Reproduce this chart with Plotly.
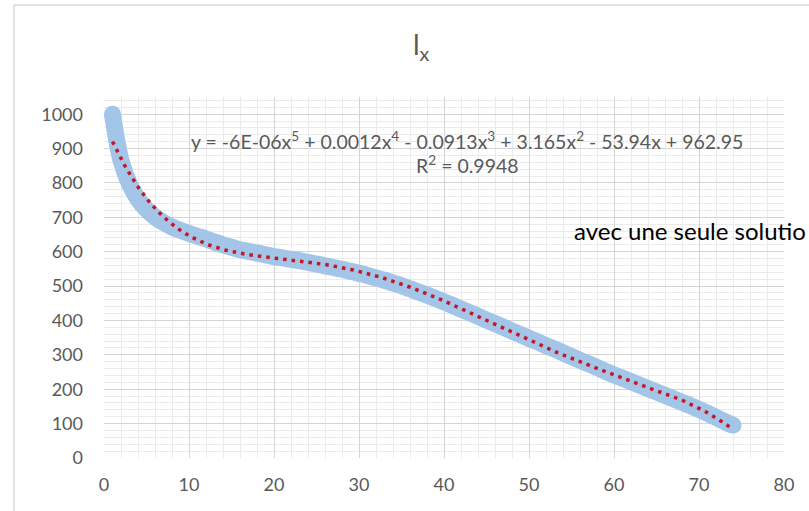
import numpy as np
import plotly.graph_objects as go

# Survivors l_x by age x
ages = list(range(1, 75))
lx = [1000, 865, 797, 753, 723, 701, 685, 672, 662, 653,
      645, 637, 628, 620, 613, 606, 601, 596, 591, 586,
      582, 578, 574, 569, 564, 559, 554, 549, 543, 537,
      531, 524, 517, 509, 501, 492, 483, 474, 464, 454,
      444, 433, 423, 412, 401, 391, 380, 369, 359, 348,
      338, 327, 317, 306, 295, 284, 274, 263, 252, 242,
      232, 222, 212, 202, 192, 182, 172, 162, 152, 141,
      130, 118, 106, 95]

x_ticks = [0, 10, 20, 30, 40, 50, 60, 70, 80]
y_ticks = [0, 100, 200, 300, 400, 500, 600, 700, 800, 900, 1000]

title_text = "l<sub>x</sub>"
equation_text = ("y = -6E-06x<sup>5</sup> + 0.0012x<sup>4</sup> - 0.0913x<sup>3</sup>"
                 " + 3.165x<sup>2</sup> - 53.94x + 962.95")
r2_text = "R<sup>2</sup> = 0.9948"
note_text = "avec une seule solutio"

# 5th-degree polynomial trendline fitted to the series
coef = np.polyfit(ages, lx, 5)
x_fit = np.linspace(min(ages), max(ages), 400)
y_fit = np.polyval(coef, x_fit)

W, H = 809, 511
L, R, T, B = 104, 25, 97, 53
PW, PH = W - L - R, H - T - B


def px(xp):
    return (xp - L) / PW


def py(yp):
    return (H - B - yp) / PH


GRAY = "#595959"
FONT = "Lato"
BLUE = "#a3c5e8"
BAND = 17

fig = go.Figure()
# thick smoothed series line
fig.add_trace(go.Scatter(
    x=ages, y=lx, mode="lines",
    line=dict(color=BLUE, width=BAND, shape="spline", smoothing=1),
    hoverinfo="skip", showlegend=False,
))
# rounded caps at both ends of the series
fig.add_trace(go.Scatter(
    x=[ages[0], ages[-1]], y=[lx[0], lx[-1]], mode="markers",
    marker=dict(color=BLUE, size=BAND, line=dict(width=0)),
    hoverinfo="skip", showlegend=False,
))
fig.add_trace(go.Scatter(
    x=x_fit, y=y_fit, mode="lines",
    line=dict(color="#c81424", width=3.5, dash="3.5px,5px"),
    hoverinfo="skip", showlegend=False,
))

fig.update_layout(
    width=W, height=H,
    margin=dict(l=L, r=R, t=T, b=B),
    paper_bgcolor="white", plot_bgcolor="white",
    font=dict(family=FONT, color=GRAY),
    xaxis=dict(
        range=[0, 80], tickvals=x_ticks, ticktext=[str(v) for v in x_ticks],
        showgrid=True, gridcolor="#d4d4d4", gridwidth=1,
        zeroline=False, showline=False, ticks="",
        tickfont=dict(size=18, color=GRAY, family=FONT),
        minor=dict(dtick=2, tick0=0, showgrid=True, gridcolor="#ebebeb", gridwidth=1),
        fixedrange=True, ticklabelstandoff=14,
    ),
    yaxis=dict(
        range=[0, 1050], tickvals=y_ticks, ticktext=[str(v) for v in y_ticks],
        showgrid=True, gridcolor="#d4d4d4", gridwidth=1,
        zeroline=False, showline=False, ticks="",
        tickfont=dict(size=18, color=GRAY, family=FONT),
        minor=dict(dtick=20, tick0=0, showgrid=True, gridcolor="#ebebeb", gridwidth=1),
        fixedrange=True, ticklabelstandoff=20,
    ),
    shapes=[
        dict(type="line", xref="paper", yref="paper",
             x0=px(14), x1=px(14), y0=py(H), y1=py(5),
             line=dict(color="#d9d9d9", width=1.5)),
        dict(type="line", xref="paper", yref="paper",
             x0=px(14), x1=px(W), y0=py(5), y1=py(5),
             line=dict(color="#d9d9d9", width=1.5)),
    ],
    annotations=[
        dict(text=title_text, xref="paper", yref="paper", x=px(421), y=py(46),
             xanchor="center", yanchor="middle", showarrow=False,
             font=dict(size=28, color=GRAY, family=FONT)),
        dict(text=equation_text, xref="paper", yref="paper", x=px(467), y=py(140),
             xanchor="center", yanchor="middle", showarrow=False,
             font=dict(size=19.5, color=GRAY, family=FONT)),
        dict(text=r2_text, xref="paper", yref="paper", x=px(467), y=py(164),
             xanchor="center", yanchor="middle", showarrow=False,
             font=dict(size=19.5, color=GRAY, family=FONT)),
        dict(text=note_text, xref="paper", yref="paper", x=px(572), y=py(230),
             xanchor="left", yanchor="middle", showarrow=False,
             font=dict(size=24, color="#000000", family=FONT)),
    ],
)

fig.write_html("out.html")
